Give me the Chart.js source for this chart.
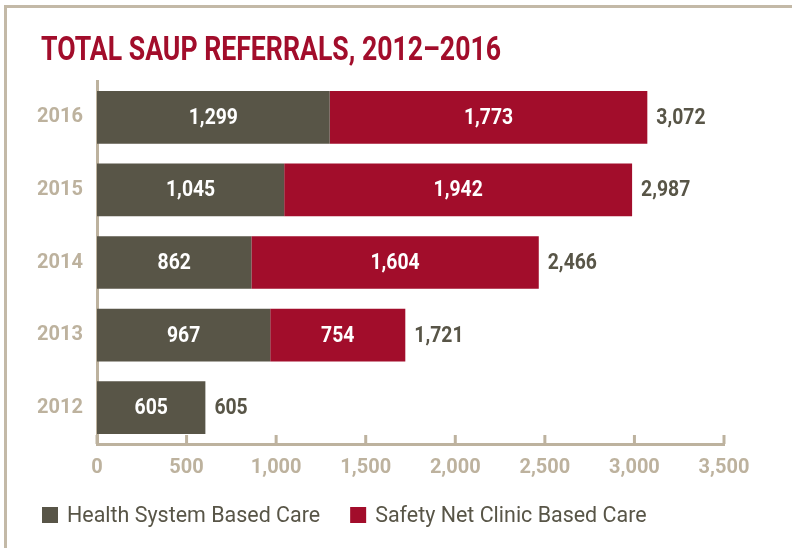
<!DOCTYPE html>
<html>
<head>
<meta charset="utf-8">
<script src="https://cdn.jsdelivr.net/npm/chart.js@4.4.1/dist/chart.umd.min.js"></script>
<style>
  html, body { margin: 0; padding: 0; background: #ffffff; }
  #wrap { position: relative; width: 792px; height: 548px; overflow: hidden; }
  #frame { position: absolute; left: 4px; top: 5px; width: 900px; height: 700px;
           border-top: 3px solid #c3b9a7; border-left: 3px solid #c3b9a7; }
  #c { position: absolute; left: 0; top: 0; }
</style>
</head>
<body>
<div id="wrap">
  <div id="frame"></div>
  <canvas id="c" width="792" height="548"></canvas>
</div>
<script>
// ---- data ----
const titleText = 'TOTAL SAUP REFERRALS, 2012–2016';
const years = ['2016', '2015', '2014', '2013', '2012'];
const healthSystem = [1299, 1045, 862, 967, 605];
const safetyNet = [1773, 1942, 1604, 754, null];
const xTickValues = [0, 500, 1000, 1500, 2000, 2500, 3000, 3500];
const seriesNames = ['Health System Based Care', 'Safety Net Clinic Based Care'];

// ---- styles ----
const OLIVE = '#585547';
const CRIMSON = '#a20d2b';
const TAN = '#bdb29e';
const FONT = 'Roboto, "Liberation Sans", sans-serif';

const fmt = v => Number(v).toLocaleString('en-US');

function condensedText(ctx, text, x, y, sx) {
  ctx.save();
  ctx.translate(x, y);
  ctx.scale(sx, 1);
  ctx.fillText(text, 0, 0);
  ctx.restore();
}

const labelPlugin = {
  id: 'labels',
  afterDatasetsDraw(chart) {
    const ctx = chart.ctx;
    ctx.save();
    ctx.font = 'bold 22px ' + FONT;
    ctx.textBaseline = 'middle';
    const sx = 0.88;
    // inner labels
    chart.data.datasets.forEach((ds, di) => {
      const meta = chart.getDatasetMeta(di);
      meta.data.forEach((bar, i) => {
        const v = ds.data[i];
        if (v === null || v === undefined) return;
        ctx.fillStyle = '#ffffff';
        ctx.textAlign = 'center';
        condensedText(ctx, fmt(v), (bar.x + bar.base) / 2, bar.y + 1, sx);
      });
    });
    // totals
    years.forEach((y, i) => {
      let end = null, total = 0, yy = null;
      chart.data.datasets.forEach((ds, di) => {
        const v = ds.data[i];
        if (v === null || v === undefined) return;
        total += v;
        const bar = chart.getDatasetMeta(di).data[i];
        end = bar.x; yy = bar.y;
      });
      if (end === null) return;
      ctx.fillStyle = OLIVE;
      ctx.textAlign = 'left';
      condensedText(ctx, fmt(total), end + 9, yy + 1, sx);
    });
    ctx.restore();
  },
  afterDraw(chart) {
    const ctx = chart.ctx;
    const xs = chart.scales.x;
    const area = chart.chartArea;
    ctx.save();
    // tick marks pointing up from the axis
    ctx.strokeStyle = TAN;
    ctx.lineWidth = 3;
    xTickValues.forEach(v => {
      const px = xs.getPixelForValue(v);
      ctx.beginPath();
      ctx.moveTo(px, area.bottom);
      ctx.lineTo(px, area.bottom - 9);
      ctx.stroke();
    });
    // title
    ctx.fillStyle = CRIMSON;
    ctx.font = 'bold 33px ' + FONT;
    ctx.textBaseline = 'alphabetic';
    ctx.textAlign = 'left';
    const w = ctx.measureText(titleText).width;
    condensedText(ctx, titleText, 41, 60, 460 / w);
    ctx.restore();
    // legend
    ctx.save();
    ctx.font = '22px ' + FONT;
    ctx.textBaseline = 'middle';
    ctx.textAlign = 'left';
    let x = 42;
    const ly = 515;
    const lsx = 0.975;
    chart.data.datasets.forEach(ds => {
      ctx.fillStyle = ds.backgroundColor;
      ctx.fillRect(x, ly - 8, 16, 16);
      ctx.fillStyle = OLIVE;
      condensedText(ctx, ds.label, x + 25, ly + 1, lsx);
      x += 25 + ctx.measureText(ds.label).width * lsx + 30;
    });
    ctx.restore();
  }
};

new Chart(document.getElementById('c'), {
  type: 'bar',
  data: {
    labels: years,
    datasets: [
      { label: seriesNames[0], data: healthSystem, backgroundColor: OLIVE,
        barPercentage: 0.726, categoryPercentage: 1.0 },
      { label: seriesNames[1], data: safetyNet, backgroundColor: CRIMSON,
        barPercentage: 0.726, categoryPercentage: 1.0 }
    ]
  },
  options: {
    indexAxis: 'y',
    responsive: false,
    animation: false,
    devicePixelRatio: 1,
    layout: { padding: { top: 81, right: 68, left: 0, bottom: 0 } },
    plugins: {
      legend: { display: false },
      tooltip: { enabled: false },
      title: { display: false }
    },
    scales: {
      x: {
        stacked: true,
        min: 0, max: 3500,
        afterBuildTicks: s => { s.ticks = xTickValues.map(v => ({ value: v })); },
        afterFit: s => { s.height = 104; },
        grid: { display: false, drawTicks: false },
        border: { display: true, color: TAN, width: 3 },
        ticks: {
          color: TAN, padding: 12, maxRotation: 0, autoSkip: false,
          font: { family: FONT, size: 20, weight: 'bold' },
          callback: v => fmt(v)
        }
      },
      y: {
        stacked: true,
        afterFit: s => { s.width = 97; },
        grid: { display: false, drawTicks: false },
        border: { display: true, color: TAN, width: 3 },
        ticks: {
          color: TAN, padding: 14,
          font: { family: FONT, size: 20, weight: 'bold' }
        }
      }
    }
  },
  plugins: [labelPlugin]
});
</script>
</body>
</html>
